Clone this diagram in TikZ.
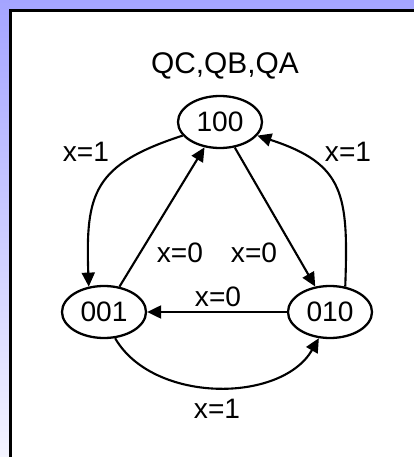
\documentclass[tikz,border=0pt]{standalone}
\usepackage{fontspec}
\setmainfont{Liberation Sans}
\usetikzlibrary{arrows.meta, shapes.geometric}

\definecolor{backtop}{RGB}{164,164,255}
\definecolor{backbot}{RGB}{244,244,255}

\tikzset{
  stnode/.style={ellipse, draw, line width=1.3pt, fill=white,
    minimum width=1.68cm, minimum height=1.04cm, inner sep=0pt},
  trans/.style={-{Triangle[length=0.28cm, width=0.26cm]}, line width=1.2pt},
}

\begin{document}
\begin{tikzpicture}[font=\fontsize{16}{19}\selectfont]
        \useasboundingbox (0,0) rectangle (8.28,9.14);
        \shade[top color=backtop, bottom color=backbot] (0,0) rectangle (8.28,9.14); % backdrop
        \fill[white] (0.21,0) rectangle (8.28,8.93);
        \draw[line width=0.06cm] (0.21,0) -- (0.21,8.93) -- (8.28,8.93); % frame edge

        % states
        \node[stnode] (s100) at (4.40,6.70) {100};
        \node[stnode] (s001) at (2.08,2.90) {001};
        \node[stnode] (s010) at (6.60,2.90) {010};
        \node[font=\fontsize{17}{20}\selectfont] (hdr) at (4.50,7.82) {QC,QB,QA};

        % transitions on x=0
        \draw[trans] (s001) -- (s100);
        \draw[trans] (s100) -- (s010);
        \draw[trans] (s010) -- (s001);

        % transitions on x=1
        \draw[trans] (s100.200) to[out=198, in=92, looseness=1.35] (s001.121);
        \draw[trans] (s010.59) to[out=88, in=-18, looseness=1.35] (s100.340);
        \draw[trans] (s001.-67) to[out=-60, in=-120, looseness=0.95] (s010.-113);

        % labels
        \node (lzl) at (3.60,4.08) {x=0};
        \node (lzr) at (5.08,4.08) {x=0};
        \node (lzb) at (4.36,3.20) {x=0};
        \node (lol) at (1.72,6.10) {x=1};
        \node (lor) at (6.96,6.10) {x=1};
        \node (lob) at (4.34,0.96) {x=1};
    \end{tikzpicture}
\end{document}
